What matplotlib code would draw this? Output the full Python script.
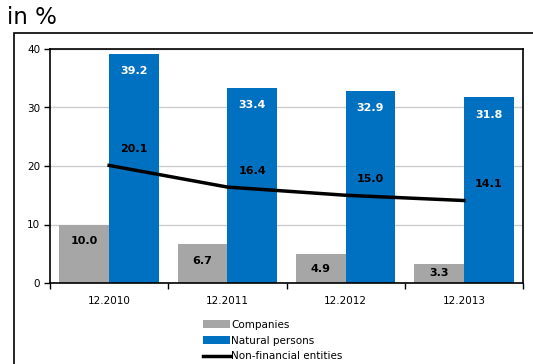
import numpy as np
import matplotlib.pyplot as plt
from matplotlib.patches import Rectangle

periods = ["12.2010", "12.2011", "12.2012", "12.2013"]
companies = [10.0, 6.7, 4.9, 3.3]
natural_persons = [39.2, 33.4, 32.9, 31.8]
non_financial = [20.1, 16.4, 15.0, 14.1]

GRAY = "#a6a6a6"
BLUE = "#0070c0"

plt.rcParams["font.family"] = "DejaVu Sans"

fig = plt.figure(figsize=(5.33, 3.64), dpi=100)
W, H = 533, 364
ax = fig.add_axes([50 / W, 1 - 283 / H, (523 - 50) / W, (283 - 49) / H])

x = np.arange(len(periods))
bw = 0.42
b1 = ax.bar(x - bw / 2, companies, bw, color=GRAY, label="Companies", zorder=2)
b2 = ax.bar(x + bw / 2, natural_persons, bw, color=BLUE, label="Natural persons", zorder=2)
ln, = ax.plot(x, non_financial, color="black", lw=2.5, label="Non-financial entities", zorder=3)

# value labels just inside the bar tops
for i in range(len(x)):
    c = companies[i]
    yc = c - 2.9 if c > 5 else c / 2
    ax.text(x[i] - bw / 2, yc, f"{c:.1f}", ha="center", va="center",
            fontsize=8, fontweight="bold", color="black", zorder=4)
    ax.text(x[i] + bw / 2, natural_persons[i] - 3.0, f"{natural_persons[i]:.1f}",
            ha="center", va="center", fontsize=8, fontweight="bold", color="white", zorder=4)
    ax.text(x[i] + bw / 2, non_financial[i] + 2.8, f"{non_financial[i]:.1f}",
            ha="center", va="center", fontsize=8, fontweight="bold", color="black", zorder=4)

ax.set_xlim(-0.5, len(x) - 0.5)
ax.set_ylim(0, 40)
ax.set_yticks([0, 10, 20, 30, 40])
ax.set_xticks(x)
ax.set_xticklabels(periods)
ax.set_xticks(np.arange(-0.5, len(x)), minor=True)
ax.tick_params(axis="x", which="major", length=0, pad=9, labelsize=7.5)
ax.tick_params(axis="x", which="minor", length=4, width=1, direction="out")
ax.tick_params(axis="y", length=4, width=1, labelsize=7.5, pad=3)
ax.yaxis.grid(True, color="#cccccc", lw=1, zorder=0)
ax.set_axisbelow(True)
for s in ax.spines.values():
    s.set_linewidth(1.2)
    s.set_color("black")

fig.legend(handles=[b1, b2, ln], loc="upper left", bbox_to_anchor=(203 / W, 1 - 320 / H),
           frameon=False, fontsize=7.5, handlelength=2.6, handleheight=0.8,
           handletextpad=0.1, labelspacing=0.55, borderpad=0, borderaxespad=0)

fig.text(7 / W, 1 - 18 / H, "in %", fontsize=16.5, va="center", ha="left")

# outer frame around the chart area
fig.patches.append(Rectangle((14 / W, -0.1), 1.0, 1 - 33 / H + 0.1,
                             transform=fig.transFigure, fill=False,
                             edgecolor="black", lw=1.2))

fig.savefig("out.png", dpi=100)
